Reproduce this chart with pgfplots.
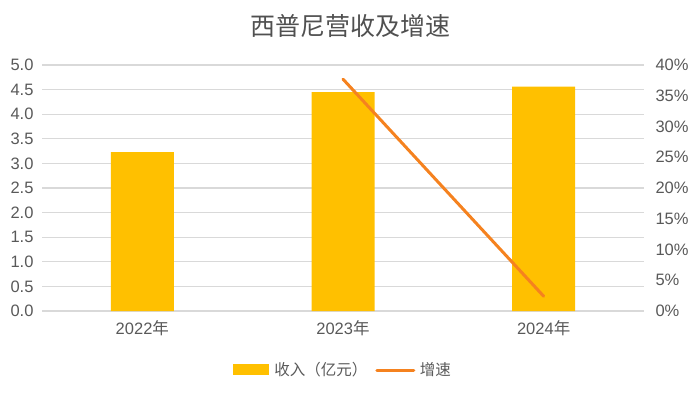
\documentclass[border=0pt]{standalone}
\usepackage{fontspec}
\setmainfont{Liberation Sans}
\newfontfamily\cjk{Noto Sans CJK SC}
\usepackage{pgfplots}
\pgfplotsset{compat=1.18}
\definecolor{barc}{HTML}{FFC000}
\definecolor{linec}{HTML}{F5821F}
\definecolor{gridc}{HTML}{D9D9D9}
\definecolor{txt}{HTML}{595959}
\begin{document}
\begin{tikzpicture}[x=1pt,y=1pt]
\useasboundingbox (0,0) rectangle (700,392);
\node[text=txt!90!black, font=\cjk\fontsize{25}{28}\selectfont] at (350,366) {西普尼营收及增速};
\begin{axis}[
  at={(42pt,81pt)}, anchor=south west,
  scale only axis, width=602pt, height=246pt,
  xmin=-0.5, xmax=2.5, ymin=0, ymax=5,
  xtick={0,1,2}, xticklabels={2022{\cjk 年},2023{\cjk 年},2024{\cjk 年}},
  ytick={0,0.5,...,5},
  yticklabel style={/pgf/number format/fixed,/pgf/number format/fixed zerofill,/pgf/number format/precision=1, xshift=-5pt},
  /pgf/number format/assume math mode=true,
  ymajorgrids, grid style={gridc, line width=1.2pt},
  axis line style={draw=none}, major tick length=0pt,
  tick label style={text=txt, font=\fontsize{16.5}{18}\selectfont},
  xticklabel style={yshift=-6pt},
]
\addplot[ybar, bar width=63pt, fill=barc, draw=none] coordinates {(0,3.23) (1,4.45) (2,4.56)};
\end{axis}
\begin{axis}[
  at={(42pt,81pt)}, anchor=south west,
  scale only axis, width=602pt, height=246pt,
  xmin=-0.5, xmax=2.5, ymin=0, ymax=40,
  axis y line*=right, axis x line=none,
  ytick={0,5,...,40}, yticklabel={\pgfmathprintnumber{\tick}\%},
  /pgf/number format/assume math mode=true,
  axis line style={draw=none}, major tick length=0pt,
  tick label style={text=txt, font=\fontsize{16.5}{18}\selectfont},
  yticklabel style={xshift=8pt},
  legend style={at={(0.5,-0.24)}, anchor=center, draw=none, fill=none,
    legend columns=2, font=\cjk\fontsize{15.5}{17}\selectfont, text=txt,
    /tikz/every even column/.append style={column sep=6pt}},
]
\addlegendimage{area legend, legend image code/.code={\fill[barc, draw=none] (0pt,-5pt) rectangle (36pt,6pt); \path[draw=none, fill=none] (0pt,0pt) -- (39pt,0pt);}}
\addlegendentry{收入（亿元）}
\addplot[linec, line width=3pt, line cap=round, legend image code/.code={\draw[linec, line width=3pt, line cap=round] (1pt,0pt) -- (38pt,0pt); \path[draw=none] (0pt,0pt) -- (42pt,0pt);}] coordinates {(1,37.7) (2,2.4)};
\addlegendentry{增速}
\end{axis}
\end{tikzpicture}
\end{document}
